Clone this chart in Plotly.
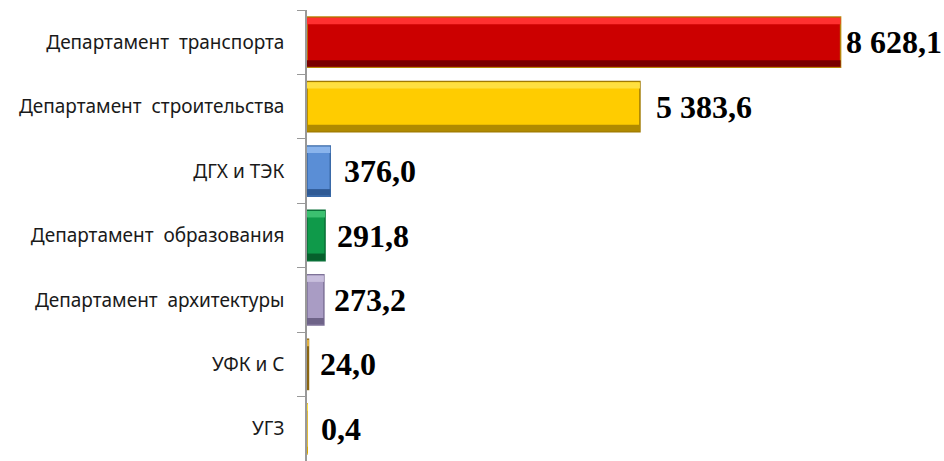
import plotly.graph_objects as go

categories = ["Департамент\u00a0\u00a0транспорта", "Департамент\u00a0\u00a0строительства", "ДГХ и ТЭК",
              "Департамент\u00a0\u00a0образования", "Департамент\u00a0\u00a0архитектуры", "УФК и С", "УГЗ"]
values = [8628.1, 5383.6, 376.0, 291.8, 273.2, 24.0, 0.4]
colors = ["#CC0000", "#FFCC00", "#5A8ED6", "#0F9A4A", "#A99CC4", "#C8961E", "#FFCC00"]
light_colors = ["#FF3030", "#FFE040", "#8AB4EC", "#3CC070", "#C8BEDD", "#E0B040", "#FFE040"]
dark_colors = ["#7A0000", "#B08A00", "#2F5A94", "#06602C", "#6E6388", "#8A6510", "#D9A800"]
edge_colors = ["#B8860B", "#A07A00", "#3A6AA8", "#0A7038", "#7E7298", "#8A6510", "#D9A800"]
label_shift = [3, 14, 12, 10, 8, 10, 12]

def fmt(v):
    return f"{v:,.1f}".replace(",", " ").replace(".", ",")

labels = [fmt(v) for v in values]

fig = go.Figure()
fig.add_trace(go.Bar(
    y=categories, x=values, orientation="h", width=0.78,
    marker=dict(color=colors, line=dict(color=edge_colors, width=1.5)),
    hoverinfo="skip",
))
fig.add_trace(go.Bar(
    y=categories, x=values, orientation="h", width=0.1, offset=-0.38,
    marker=dict(color=light_colors, line=dict(width=0)), hoverinfo="skip",
))
fig.add_trace(go.Bar(
    y=categories, x=values, orientation="h", width=0.1, offset=0.28,
    marker=dict(color=dark_colors, line=dict(width=0)), hoverinfo="skip",
))

for cat, v, lab, sh in zip(categories, values, labels, label_shift):
    fig.add_annotation(x=v, y=cat, text=lab, showarrow=False, xanchor="left", yanchor="middle",
                       xshift=sh, font=dict(family="Liberation Serif", size=32, color="#000000", weight="bold"))

fig.update_layout(
    width=944, height=461,
    margin=dict(l=307, r=0, t=10, b=0),
    paper_bgcolor="white", plot_bgcolor="white",
    barmode="overlay", showlegend=False,
    font=dict(family="Noto Sans", size=19, color="#1a1a1a"),
    xaxis=dict(range=[0, 10300], visible=False, showgrid=False, zeroline=False),
    yaxis=dict(autorange="reversed", showline=True, linecolor="#999999", linewidth=1.5,
               ticks="outside", ticklen=8, tickcolor="#999999", tickson="boundaries",
               ticklabelstandoff=17, showgrid=False),
)
fig.write_html("out.html")
